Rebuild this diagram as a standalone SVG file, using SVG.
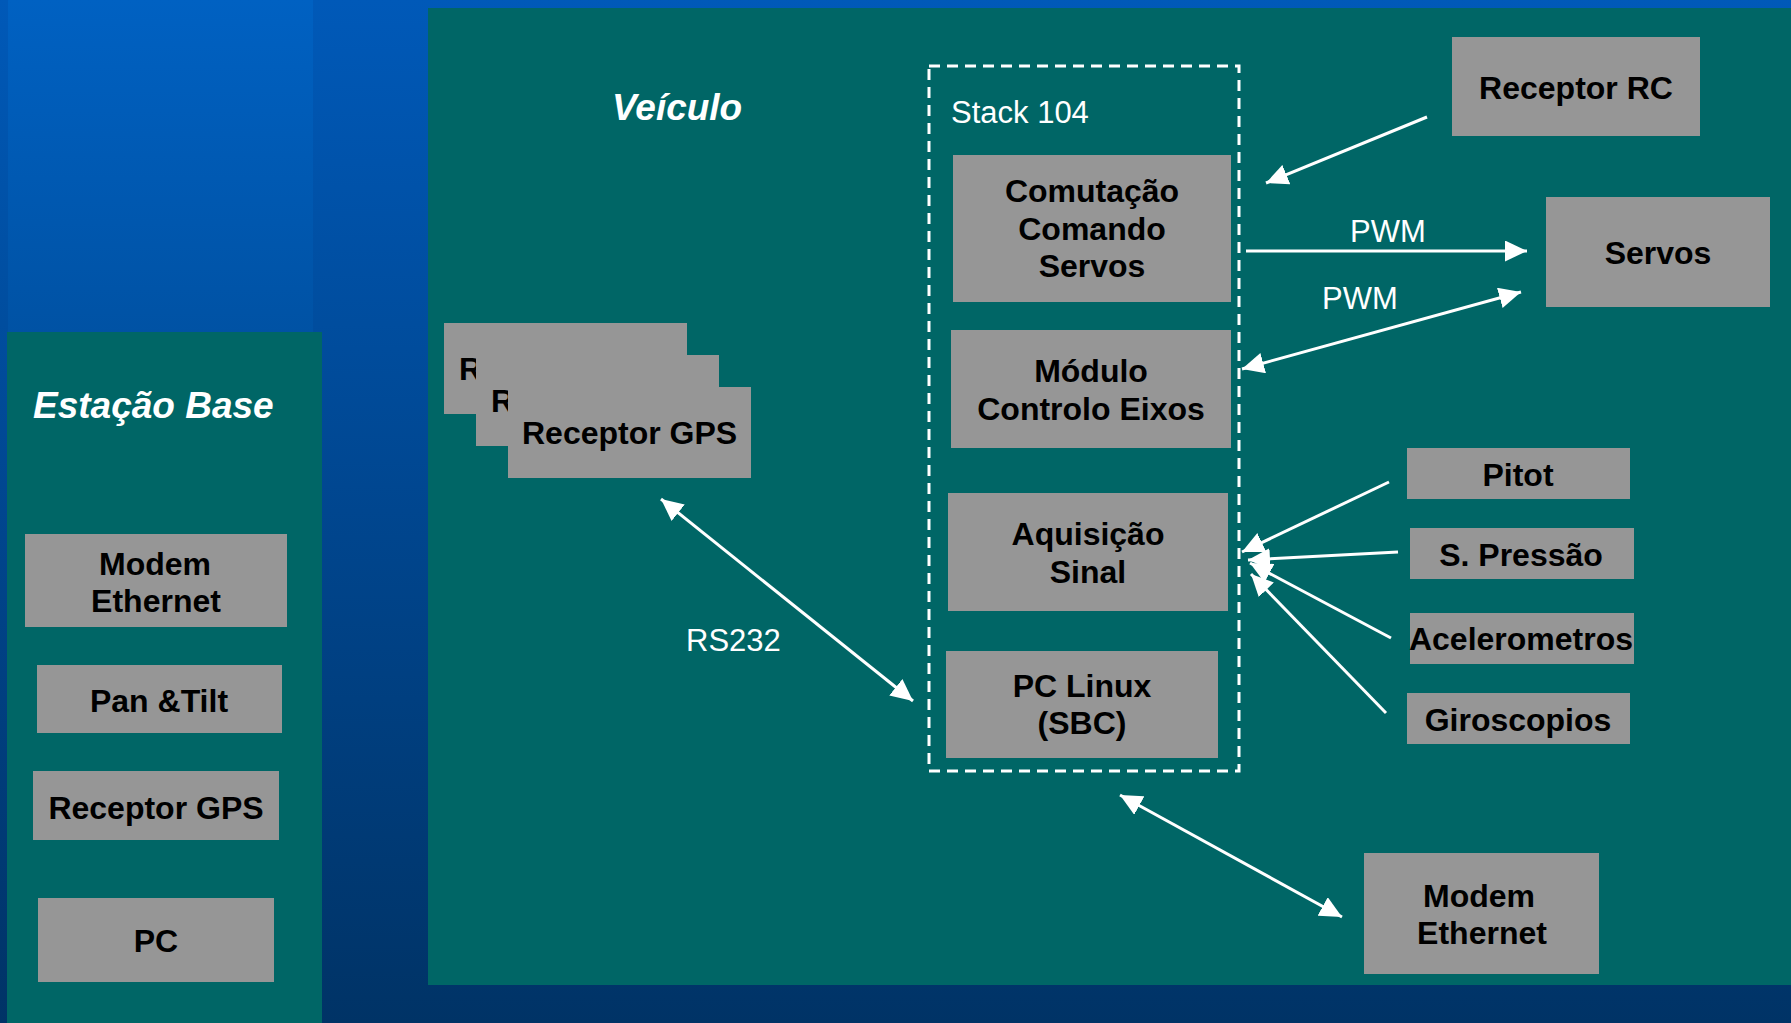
<svg xmlns="http://www.w3.org/2000/svg" width="1791" height="1023" viewBox="0 0 1791 1023">
  <defs>
    <linearGradient id="bg" x1="0" y1="0" x2="0" y2="1">
      <stop offset="0" stop-color="#0059b8"/>
      <stop offset="1" stop-color="#003366"/>
    </linearGradient>
    <linearGradient id="col" x1="0" y1="0" x2="0" y2="1">
      <stop offset="0" stop-color="#0061c2"/>
      <stop offset="1" stop-color="#003366"/>
    </linearGradient>
    <marker id="ah" viewBox="0 0 22 21" refX="22" refY="10.5" markerWidth="22" markerHeight="21" markerUnits="userSpaceOnUse" orient="auto-start-reverse">
      <path d="M0,0 L22,10.5 L0,21 Z" fill="#ffffff"/>
    </marker>
    <style>
      .panel { fill: #006666; }
      .box { fill: #969696; }
      .lbl { font-family: "Liberation Sans", Arial, sans-serif; font-weight: bold; font-size: 32px; fill: #000000; text-anchor: middle; }
      .lbl-l { font-family: "Liberation Sans", Arial, sans-serif; font-weight: bold; font-size: 32px; fill: #000000; }
      .hdr { font-family: "Liberation Sans", Arial, sans-serif; font-weight: bold; font-style: italic; font-size: 37px; fill: #ffffff; }
      .note { font-family: "Liberation Sans", Arial, sans-serif; font-size: 31px; fill: #ffffff; }
      .conn { stroke: #ffffff; stroke-width: 3; fill: none; }
      .arrow { marker-end: url(#ah); }
      .dbl { marker-start: url(#ah); marker-end: url(#ah); }
      .stack { fill: none; stroke: #ffffff; stroke-width: 3; stroke-dasharray: 11 7; }
    </style>
  </defs>

  <!-- background -->
  <rect x="0" y="0" width="1791" height="1023" fill="url(#bg)"/>
  <rect x="8" y="0" width="305" height="1023" fill="url(#col)"/>

  <!-- panels -->
  <rect class="panel" x="428" y="8" width="1363" height="977"/>
  <rect class="panel" x="7" y="332" width="315" height="691"/>

  <text class="hdr" x="33" y="418">Estação Base</text>
  <text class="hdr" x="612" y="120">Veículo</text>

  <!-- Stack 104 container -->
  <g id="stack104">
    <rect class="stack" x="929" y="66" width="310" height="705"/>
    <text class="note" x="951" y="123">Stack 104</text>
  </g>

  <!-- base station nodes -->
  <g id="base-modem">
    <rect class="box" x="25" y="534" width="262" height="93"/>
    <text class="lbl" x="155" y="575">Modem</text>
    <text class="lbl" x="156" y="612">Ethernet</text>
  </g>
  <g id="base-pantilt">
    <rect class="box" x="37" y="665" width="245" height="68"/>
    <text class="lbl" x="159" y="712">Pan &amp;Tilt</text>
  </g>
  <g id="base-gps">
    <rect class="box" x="33" y="771" width="246" height="69"/>
    <text class="lbl" x="156" y="819">Receptor GPS</text>
  </g>
  <g id="base-pc">
    <rect class="box" x="38" y="898" width="236" height="84"/>
    <text class="lbl" x="156" y="952">PC</text>
  </g>

  <!-- vehicle nodes -->
  <g id="gps-stack">
    <rect class="box" x="444" y="323" width="243" height="91"/>
    <text class="lbl-l" x="459" y="380">Receptor GPS</text>
    <rect class="box" x="476" y="355" width="243" height="91"/>
    <text class="lbl-l" x="491" y="412">Receptor GPS</text>
    <rect class="box" x="508" y="387" width="243" height="91"/>
    <text class="lbl-l" x="522" y="444">Receptor GPS</text>
  </g>
  <g id="comutacao">
    <rect class="box" x="953" y="155" width="278" height="147"/>
    <text class="lbl" x="1092" y="202">Comutação</text>
    <text class="lbl" x="1092" y="240">Comando</text>
    <text class="lbl" x="1092" y="277">Servos</text>
  </g>
  <g id="modulo">
    <rect class="box" x="951" y="330" width="280" height="118"/>
    <text class="lbl" x="1091" y="382">Módulo</text>
    <text class="lbl" x="1091" y="420">Controlo Eixos</text>
  </g>
  <g id="aquisicao">
    <rect class="box" x="948" y="493" width="280" height="118"/>
    <text class="lbl" x="1088" y="545">Aquisição</text>
    <text class="lbl" x="1088" y="583">Sinal</text>
  </g>
  <g id="pclinux">
    <rect class="box" x="946" y="651" width="272" height="107"/>
    <text class="lbl" x="1082" y="697">PC Linux</text>
    <text class="lbl" x="1082" y="734">(SBC)</text>
  </g>
  <g id="receptor-rc">
    <rect class="box" x="1452" y="37" width="248" height="99"/>
    <text class="lbl" x="1576" y="99">Receptor RC</text>
  </g>
  <g id="servos">
    <rect class="box" x="1546" y="197" width="224" height="110"/>
    <text class="lbl" x="1658" y="264">Servos</text>
  </g>
  <g id="pitot">
    <rect class="box" x="1407" y="448" width="223" height="51"/>
    <text class="lbl" x="1518" y="486">Pitot</text>
  </g>
  <g id="spressao">
    <rect class="box" x="1410" y="528" width="224" height="51"/>
    <text class="lbl" x="1521" y="566">S. Pressão</text>
  </g>
  <g id="acelerometros">
    <rect class="box" x="1410" y="613" width="224" height="51"/>
    <text class="lbl" x="1521" y="650">Acelerometros</text>
  </g>
  <g id="giroscopios">
    <rect class="box" x="1407" y="693" width="223" height="51"/>
    <text class="lbl" x="1518" y="731">Giroscopios</text>
  </g>
  <g id="veh-modem">
    <rect class="box" x="1364" y="853" width="235" height="121"/>
    <text class="lbl" x="1479" y="907">Modem</text>
    <text class="lbl" x="1482" y="944">Ethernet</text>
  </g>

  <!-- connectors -->
  <g id="connectors">
    <line class="conn arrow" x1="1427" y1="117" x2="1266" y2="183"/>
    <line class="conn arrow" x1="1246" y1="251" x2="1527" y2="251"/>
    <line class="conn dbl" x1="1242" y1="369" x2="1521" y2="292"/>
    <line class="conn arrow" x1="1389" y1="482" x2="1242" y2="552"/>
    <line class="conn arrow" x1="1398" y1="552" x2="1248" y2="560"/>
    <line class="conn arrow" x1="1391" y1="638" x2="1250" y2="563"/>
    <line class="conn arrow" x1="1386" y1="713" x2="1251" y2="574"/>
    <line class="conn dbl" x1="661" y1="499" x2="913" y2="701"/>
    <line class="conn dbl" x1="1120" y1="795" x2="1342" y2="917"/>
    <text class="note" x="1350" y="242">PWM</text>
    <text class="note" x="1322" y="309">PWM</text>
    <text class="note" x="686" y="651">RS232</text>
  </g>
</svg>
